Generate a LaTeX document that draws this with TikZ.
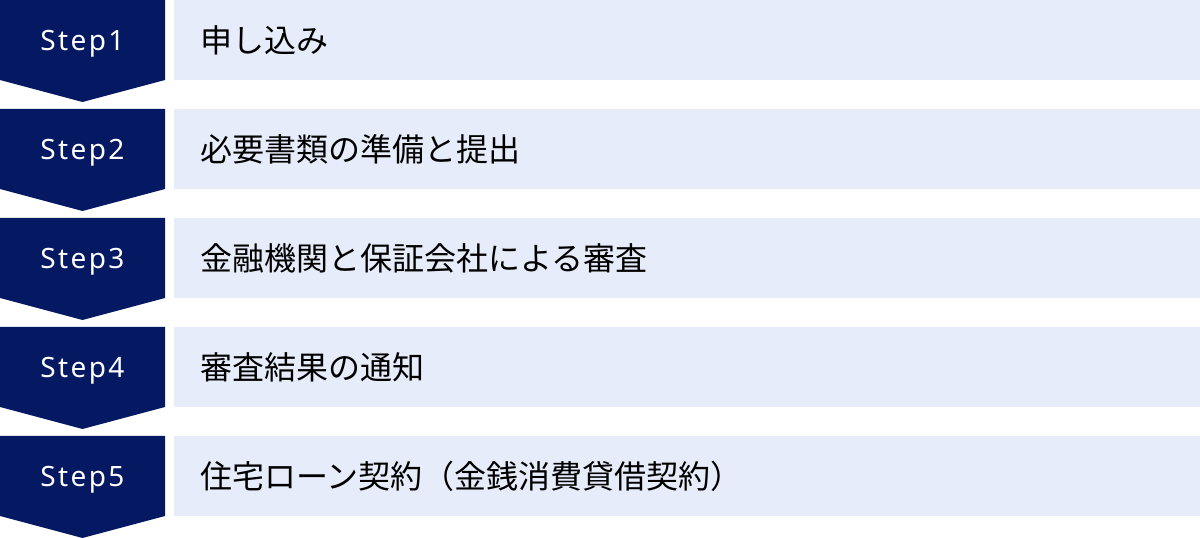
\documentclass[tikz,border=0pt]{standalone}
\usepackage{fontspec}
\setmainfont{Noto Sans}
\newfontfamily\stepfont[LetterSpace=8.5]{Noto Sans}
\newfontfamily\jpfont{Noto Sans CJK JP}
\definecolor{stepnavy}{RGB}{5,24,98}
\definecolor{barblue}{RGB}{230,236,249}

\begin{document}
\begin{tikzpicture}[x=1pt,y=1pt,
  steplabel/.style={anchor=base,text=white,font=\stepfont\fontsize{28}{32}\selectfont,inner sep=0pt},
  barlabel/.style={anchor=west,text=black,font=\jpfont\fontsize{32}{36}\selectfont,inner sep=0pt}]
\useasboundingbox (0,0) rectangle (1200,538);
% step 1
\fill[stepnavy] (0,538) -- (165,538) -- (165,458) -- (82.5,436) -- (0,458) -- cycle;
\fill[barblue] (174,538) rectangle (1200,458);
\node[steplabel] (s1) at (82.5,487) {Step1};
\node[barlabel] (t1) at (200,498) {申し込み};
% step 2
\fill[stepnavy] (0,429) -- (165,429) -- (165,349) -- (82.5,327) -- (0,349) -- cycle;
\fill[barblue] (174,429) rectangle (1200,349);
\node[steplabel] (s2) at (82.5,378) {Step2};
\node[barlabel] (t2) at (200,389) {必要書類の準備と提出};
% step 3
\fill[stepnavy] (0,320) -- (165,320) -- (165,240) -- (82.5,218) -- (0,240) -- cycle;
\fill[barblue] (174,320) rectangle (1200,240);
\node[steplabel] (s3) at (82.5,269) {Step3};
\node[barlabel] (t3) at (200,280) {金融機関と保証会社による審査};
% step 4
\fill[stepnavy] (0,211) -- (165,211) -- (165,131) -- (82.5,109) -- (0,131) -- cycle;
\fill[barblue] (174,211) rectangle (1200,131);
\node[steplabel] (s4) at (82.5,160) {Step4};
\node[barlabel] (t4) at (200,171) {審査結果の通知};
% step 5
\fill[stepnavy] (0,102) -- (165,102) -- (165,22) -- (82.5,0) -- (0,22) -- cycle;
\fill[barblue] (174,102) rectangle (1200,22);
\node[steplabel] (s5) at (82.5,51) {Step5};
\node[barlabel] (t5) at (200,62) {住宅ローン契約（金銭消費貸借契約）};
\end{tikzpicture}
\end{document}
